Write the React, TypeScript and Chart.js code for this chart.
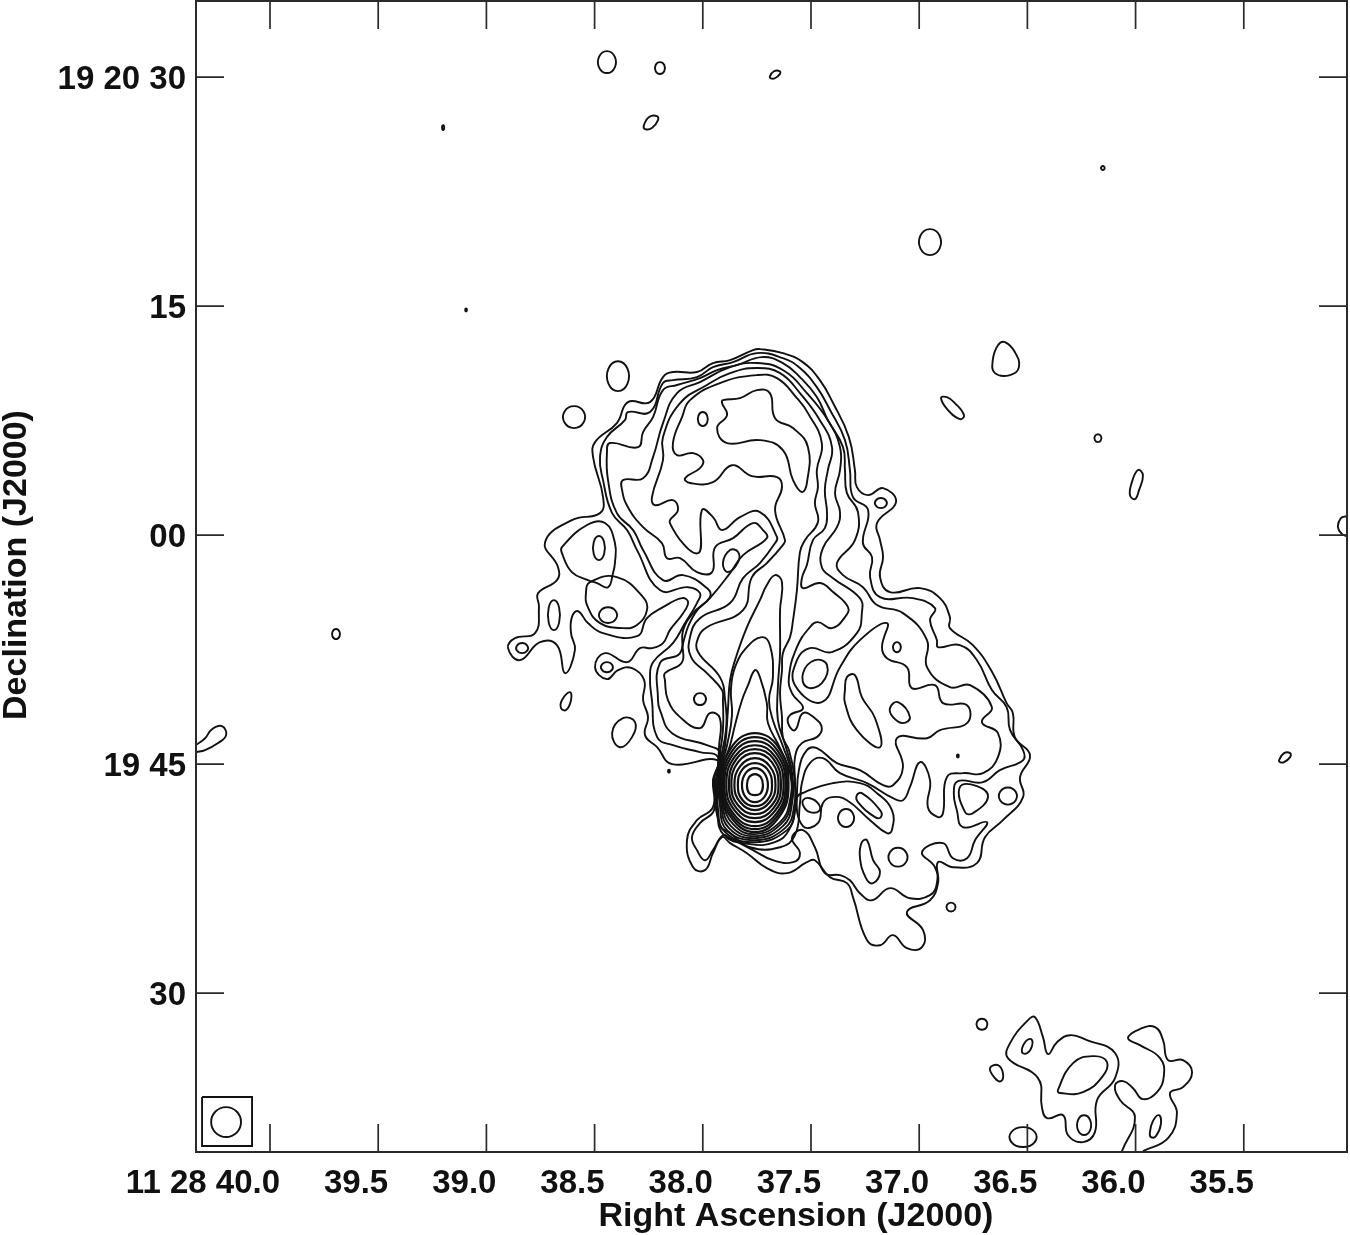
import React, { useEffect, useRef } from "react";
import { Chart, registerables } from "chart.js";

Chart.register(...registerables);

const raTicks = [40, 39.5, 39, 38.5, 38, 37.5, 37, 36.5, 36, 35.5];
const raTickLabels = ["11 28 40.0", "39.5", "39.0", "38.5", "38.0", "37.5", "37.0", "36.5", "36.0", "35.5"];
const decTicks = [30, 15, 0, -15, -30];
const decTickLabels = ["19 20 30", "15", "00", "19 45", "30"];
const xTitle = "Right Ascension (J2000)";
const yTitle = "Declination (J2000)";

// Contours: flat [RA seconds, Dec arcsec relative to 19 20 00] pairs.
const level1 = [37.736,12.18,37.630,11.92,37.538,11.33,37.459,10.15,37.398,8.65,37.325,6.42,37.297,4.26,37.288,3.14,37.236,2.62,37.167,3.08,37.107,2.16,37.195,.79,37.181,-.33,37.167,-1.44,37.181,-2.75,37.135,-3.73,36.996,-3.47,36.904,-4.13,36.858,-5.37,36.858,-6.09,36.752,-7.20,36.660,-9.04,36.596,-11.00,36.567,-11.66,36.558,-13.23,36.488,-14.41,36.534,-15.85,36.520,-17.16,36.613,-18.67,36.696,-19.78,36.733,-21.48,36.844,-21.75,36.913,-21.42,36.913,-22.79,36.950,-23.91,37.057,-24.69,36.982,-25.87,36.987,-26.99,37.057,-27.05,37.121,-26.20,37.181,-26.86,37.241,-26.53,37.306,-23.71,37.334,-22.79,37.412,-22.40,37.482,-21.29,37.519,-21.42,37.611,-22.14,37.704,-21.81,37.796,-20.83,37.874,-20.17,37.911,-19.78,37.953,-20.83,37.990,-21.94,38.045,-21.75,38.073,-19.98,38.027,-18.67,37.953,-17.82,37.953,-16.05,37.934,-14.74,38.142,-15.00,38.211,-13.89,38.267,-13.10,38.253,-11.92,38.276,-10.81,38.271,-9.50,38.327,-8.71,38.392,-8.84,38.443,-9.43,38.498,-8.65,38.452,-7.73,38.350,-8.32,38.290,-7.40,38.235,-7.40,38.184,-7.07,38.152,-6.22,38.091,-5.11,38.068,-4.39,38.096,-4.13,38.184,-4.72,38.258,-5.44,38.304,-6.62,38.461,-6.42,38.531,-5.76,38.577,-4.98,38.605,-5.37,38.609,-6.42,38.591,-7.53,38.637,-9.04,38.674,-7.20,38.752,-7.01,38.845,-8.19,38.900,-7.40,38.868,-6.75,38.775,-6.42,38.757,-4.72,38.761,-3.80,38.674,-2.95,38.669,-2.10,38.729,-.46,38.605,.98,38.475,1.44,38.461,2.49,38.507,5.11,38.498,6.09,38.397,7.34,38.346,8.71,38.244,8.71,38.184,10.35,38.138,10.68,38.027,10.68,37.953,11.27,37.874,11.46,37.768,12.12];
const level2 = [37.750,11.92,37.630,11.59,37.551,10.94,37.473,9.69,37.412,8.19,37.343,6.22,37.320,4.26,37.306,2.49,37.236,1.64,37.260,-.52,37.218,-1.44,37.227,-2.75,37.181,-4.06,37.029,-4.13,36.927,-4.78,36.950,-5.57,36.918,-6.88,36.913,-7.34,36.812,-7.20,36.733,-8.19,36.664,-10.15,36.596,-11.27,36.580,-12.77,36.520,-14.08,36.520,-14.74,36.627,-15.39,36.705,-16.18,36.821,-16.11,36.840,-16.90,36.826,-18.01,36.798,-19.13,36.687,-18.80,36.742,-19.98,36.779,-21.16,36.844,-21.16,36.890,-20.17,36.987,-20.76,36.927,-21.75,36.918,-22.79,36.950,-23.58,37.043,-23.78,37.135,-23.12,37.218,-23.91,37.274,-23.45,37.320,-22.60,37.366,-22.27,37.436,-22.14,37.482,-20.44,37.537,-19.32,37.588,-19.85,37.551,-20.83,37.583,-21.42,37.676,-21.29,37.768,-20.63,37.874,-19.85,37.907,-19.65,37.953,-20.63,37.990,-21.29,38.027,-20.63,38.050,-19.78,38.013,-18.86,37.948,-18.01,37.948,-16.05,37.930,-14.54,38.013,-14.21,38.138,-13.76,38.211,-13.23,38.235,-10.81,38.244,-9.30,38.230,-8.32,38.138,-7.07,38.082,-5.76,38.027,-4.45,38.013,-3.80,38.068,-3.41,38.198,-3.60,38.304,-.98,38.350,.33,38.419,1.44,38.461,3.60,38.475,5.11,38.443,6.42,38.360,7.53,38.346,8.06,38.244,8.06,38.184,9.96,38.138,10.15,38.027,10.35,37.953,11.00,37.860,11.33];
const level3 = [37.727,11.66,37.630,11.27,37.551,10.35,37.473,9.04,37.422,7.53,37.352,5.76,37.343,4.26,37.334,2.75,37.283,1.51,37.297,-.33,37.380,-1.83,37.352,-2.62,37.260,-3.41,37.195,-4.58,37.075,-5.11,36.964,-6.88,36.964,-8.65,36.858,-9.96,36.765,-9.83,36.664,-11.27,36.710,-12.25,36.636,-12.97,36.636,-14.54,36.705,-15.59,36.798,-15.59,36.872,-15.85,36.890,-18.21,36.913,-18.47,36.960,-17.82,36.950,-16.05,36.996,-14.87,37.043,-16.51,37.075,-17.36,37.121,-17.23,37.241,-16.24,37.366,-15.59,37.445,-14.61,37.505,-14.93,37.542,-16.24,37.551,-17.55,37.574,-19.65,37.643,-20.44,37.782,-20.44,37.874,-19.52,37.921,-18.99,37.943,-16.51,37.921,-14.28,37.981,-13.76,38.142,-12.97,38.198,-11.46,38.207,-10.81,38.198,-8.38,38.105,-7.73,38.091,-6.22,38.045,-5.11,37.967,-4.06,37.981,-3.47,38.091,-2.62,38.184,-2.95,38.276,-.98,38.322,.33,38.397,1.44,38.438,3.60,38.443,5.37,38.429,6.03,38.299,5.76,38.276,6.75,38.230,7.73,38.184,9.50,38.119,9.83,38.013,10.28,37.934,10.81,37.842,11.13];
const level4 = [37.750,11.27,37.630,10.81,37.519,9.30,37.422,7.53,37.366,5.76,37.366,4.26,37.389,2.75,37.366,1.51,37.380,.52,37.445,-.85,37.450,-2.10,37.398,-2.82,37.274,-4.13,37.265,-5.11,37.288,-6.42,37.403,-7.66,37.505,-7.40,37.565,-8.19,37.574,-9.83,37.450,-10.94,37.366,-8.65,37.274,-6.88,37.149,-5.76,37.172,-7.34,37.149,-8.06,37.057,-8.65,37.034,-10.02,36.927,-9.83,36.890,-11.00,36.779,-11.14,36.779,-12.31,36.904,-12.77,36.964,-13.30,37.103,-13.30,37.075,-15.20,37.121,-16.38,37.167,-16.38,37.274,-15.39,37.380,-14.93,37.473,-13.95,37.519,-14.08,37.556,-15.39,37.570,-17.69,37.602,-19.32,37.667,-20.11,37.782,-20.24,37.902,-19.65,37.934,-18.01,37.934,-16.38,37.925,-13.89,37.921,-11.99,37.967,-11.66,38.013,-12.64,38.105,-11.92,38.161,-10.81,38.175,-9.50,38.175,-9.04,38.096,-8.32,38.091,-7.07,38.036,-5.11,37.967,-4.13,37.874,-2.49,37.814,-1.31,37.704,-.20,37.722,.33,37.768,.79,37.860,-.20,37.943,-.79,37.957,-2.42,38.027,-2.42,38.105,-1.51,38.165,-1.51,38.189,-.52,38.276,.52,38.346,1.83,38.373,2.95,38.369,3.60,38.276,3.73,38.230,5.11,38.184,7.34,38.119,9.30,38.013,10.02,37.874,11.00];
const level5 = [37.750,10.94,37.643,10.61,37.551,9.30,37.459,7.53,37.403,5.76,37.422,4.26,37.436,2.95,37.426,1.44,37.436,.46,37.491,-.33,37.519,-1.96,37.542,-2.82,37.537,-3.47,37.459,-3.14,37.398,-3.73,37.329,-4.72,37.343,-5.37,37.403,-6.09,37.468,-5.70,37.505,-6.03,37.565,-7.34,37.602,-9.30,37.588,-10.35,37.537,-11.33,37.597,-11.79,37.606,-12.31,37.574,-12.77,37.537,-11.66,37.482,-11.99,37.450,-12.64,37.473,-13.23,37.542,-13.62,37.574,-14.54,37.574,-16.05,37.574,-18.01,37.611,-19.32,37.759,-20.11,37.897,-19.45,37.930,-17.88,37.930,-15.39,37.907,-12.77,37.907,-10.81,37.911,-10.15,37.981,-9.04,38.054,-7.99,38.059,-6.68,38.013,-5.44,37.874,-4.45,37.814,-2.82,37.736,-1.83,37.666,-.52,37.657,-.13,37.736,1.51,37.828,1.18,37.911,.33,37.953,1.18,38.004,1.64,38.022,-1.18,38.152,.79,38.115,1.64,38.138,2.29,38.221,1.96,38.235,2.49,38.184,4.91,38.184,6.42,38.105,8.64,37.981,9.83,37.874,10.61];
const level6 = [37.750,10.48,37.657,10.28,37.565,8.97,37.514,7.99,37.450,6.03,37.473,4.26,37.468,3.14,37.482,2.10,37.468,.85,37.528,-.33,37.551,-1.11,37.565,-3.60,37.583,-5.57,37.597,-6.68,37.630,-7.73,37.634,-8.84,37.643,-10.35,37.634,-11.92,37.630,-13.23,37.602,-14.08,37.578,-15.72,37.578,-17.75,37.620,-19.19,37.759,-19.98,37.888,-19.32,37.921,-17.69,37.925,-15.39,37.893,-12.77,37.897,-10.81,37.921,-9.30,38.022,-7.66,38.022,-6.75,37.981,-6.03,37.814,-4.91,37.773,-2.75,37.704,-1.83,37.630,-.65,37.620,-.33,37.666,1.64,37.634,3.14,37.657,3.80,37.773,3.86,37.865,4.58,37.953,3.47,38.059,3.41,38.082,3.73,38.013,4.39,37.999,4.91,38.045,5.37,38.119,5.24,38.138,6.03,38.096,7.73,38.059,8.84,37.921,9.96];
const jetA = [37.666,-2.62,37.634,-3.08,37.643,-4.91,37.643,-7.73,37.653,-9.96,37.653,-12.12,37.616,-13.88,37.588,-15.52,37.588,-17.62,37.630,-19.06,37.759,-19.85,37.879,-19.19,37.916,-17.55,37.921,-15.39,37.897,-13.76,37.884,-11.46,37.874,-9.50,37.851,-8.19,37.796,-6.03,37.736,-4.26,37.704,-3.27];
const jetB = [37.727,-6.68,37.690,-7.20,37.676,-9.30,37.694,-10.81,37.676,-12.12,37.630,-13.82,37.592,-15.52,37.592,-17.49,37.639,-18.93,37.759,-19.72,37.870,-19.06,37.911,-17.49,37.916,-15.39,37.888,-13.76,37.865,-11.79,37.870,-10.15,37.851,-8.65,37.796,-7.34];
const jetC = [37.759,-8.84,37.736,-9.30,37.704,-11.00,37.699,-12.31,37.643,-13.95,37.597,-15.59,37.597,-17.36,37.643,-18.80,37.759,-19.58,37.860,-18.93,37.907,-17.36,37.911,-15.39,37.874,-13.76,37.851,-12.44,37.819,-10.81,37.791,-9.83];

const core1 = [37.759,-15.65,37.732,-15.85,37.722,-16.38,37.732,-16.90,37.759,-17.03,37.786,-16.90,37.796,-16.38,37.786,-15.85];
const core2 = [37.759,-15.26,37.716,-15.59,37.699,-16.38,37.716,-17.16,37.759,-17.49,37.802,-17.16,37.819,-16.38,37.802,-15.59];
const core3 = [37.759,-14.93,37.702,-15.33,37.680,-16.38,37.702,-17.36,37.759,-17.75,37.816,-17.36,37.838,-16.38,37.816,-15.33];
const core4 = [37.759,-14.61,37.691,-15.13,37.664,-16.38,37.691,-17.49,37.759,-18.01,37.827,-17.49,37.854,-16.38,37.827,-15.13];
const core5 = [37.759,-14.28,37.681,-14.87,37.650,-16.38,37.681,-17.69,37.759,-18.27,37.837,-17.69,37.868,-16.38,37.837,-14.87];
const core6 = [37.759,-14.02,37.673,-14.67,37.639,-16.38,37.673,-17.88,37.759,-18.54,37.845,-17.88,37.879,-16.38,37.845,-14.67];
const core7 = [37.759,-13.76,37.664,-14.54,37.627,-16.38,37.664,-18.01,37.759,-18.80,37.854,-18.01,37.891,-16.38,37.854,-14.54];
const core8 = [37.759,-13.49,37.658,-14.34,37.618,-16.38,37.658,-18.21,37.759,-19.06,37.860,-18.21,37.900,-16.38,37.860,-14.34];
const core9 = [37.759,-13.23,37.653,-14.15,37.611,-16.38,37.653,-18.34,37.759,-19.26,37.865,-18.34,37.907,-16.38,37.865,-14.15];
const core10 = [37.759,-12.97,37.648,-13.95,37.604,-16.38,37.648,-18.47,37.759,-19.45,37.870,-18.47,37.914,-16.38,37.870,-13.95];

const north1 = [37.907,8.84,37.828,8.97,37.750,9.50,37.690,9.30,37.666,7.66,37.583,7.01,37.514,5.76,37.519,3.41,37.542,2.82,37.583,3.60,37.630,5.57,37.736,6.22,37.888,6.03,37.934,7.01,37.888,7.86,37.911,8.64];
const north2 = [38.000,8.06,37.980,7.83,37.980,7.37,38.000,7.14,38.020,7.37,38.020,7.83];
const north3 = [37.907,-1.83,37.874,-.98,37.837,-1.11,37.837,-1.77,37.884,-2.42];
const bubble = [37.177,2.43,37.153,2.26,37.153,1.94,37.177,1.77,37.201,1.94,37.201,2.26];
const westA = [38.651,-.79,38.535,.66,38.452,.79,38.406,-.52,38.406,-1.83,38.415,-2.49,38.438,-3.41,38.489,-3.14,38.531,-2.95,38.605,-2.42,38.651,-1.18];
const westB = [38.521,-3.08,38.397,-2.75,38.276,-4.06,38.258,-4.91,38.304,-5.89,38.369,-6.09,38.475,-5.76,38.531,-4.72,38.540,-3.80];
const westC = [38.480,-.06,38.456,-.46,38.456,-1.24,38.480,-1.64,38.504,-1.24,38.504,-.46];
const westD = [38.438,-4.72,38.402,-4.98,38.402,-5.50,38.438,-5.76,38.474,-5.50,38.474,-4.98];
const westE = [38.688,-4.26,38.664,-4.75,38.664,-5.73,38.688,-6.22,38.712,-5.73,38.712,-4.75];
const westF = [38.835,-7.07,38.811,-7.24,38.811,-7.56,38.835,-7.73,38.859,-7.56,38.859,-7.24];
const westG = [38.443,-8.32,38.419,-8.49,38.419,-8.81,38.443,-8.98,38.467,-8.81,38.467,-8.49];
const westH = [38.013,-10.35,37.989,-10.54,37.989,-10.94,38.013,-11.13,38.037,-10.94,38.037,-10.54];
const southLoop = [37.565,-17.23,37.537,-19.06,37.468,-18.86,37.445,-17.55,37.403,-17.16,37.334,-17.36,37.227,-18.67,37.149,-19.52,37.126,-19.32,37.126,-18.01,37.195,-16.90,37.274,-16.24,37.398,-16.24,37.528,-16.83];
const southA = [37.537,-17.36,37.505,-17.23,37.464,-17.62,37.464,-18.08,37.505,-18.14,37.532,-17.82];
const southB = [37.338,-17.94,37.306,-18.24,37.306,-18.82,37.338,-19.12,37.370,-18.82,37.370,-18.24];
const southC = [37.288,-17.03,37.265,-16.90,37.181,-18.01,37.177,-18.47,37.204,-18.47,37.283,-17.49];
const southD = [37.265,-20.11,37.241,-19.98,37.213,-21.29,37.181,-22.07,37.213,-22.79,37.246,-22.46,37.274,-21.09];
const southE = [37.098,-20.47,37.060,-20.78,37.060,-21.40,37.098,-21.71,37.136,-21.40,37.136,-20.78];
const southF = [36.812,-16.51,36.733,-16.44,36.682,-17.16,36.752,-18.21,36.788,-18.14];
const southG = [36.590,-16.53,36.554,-16.81,36.554,-17.37,36.590,-17.65,36.626,-17.37,36.626,-16.81];
const eastA = [37.103,-7.01,37.087,-7.18,37.087,-7.50,37.103,-7.67,37.119,-7.50,37.119,-7.18];
const eastB = [37.343,-10.15,37.334,-9.30,37.297,-9.17,37.265,-10.61,37.204,-11.99,37.181,-13.89,37.288,-12.77,37.343,-11.00];
const eastC = [37.135,-11.33,37.098,-10.94,37.043,-11.92,37.075,-12.31,37.121,-11.92];
const eastD = [37.537,-9.04,37.482,-8.19,37.426,-8.51,37.450,-9.69,37.519,-9.96];

const isle1 = [38.443,31.70,38.407,31.34,38.407,30.62,38.443,30.26,38.479,30.62,38.479,31.34];
const isle2 = [38.198,30.98,38.178,30.79,38.178,30.39,38.198,30.20,38.218,30.39,38.218,30.79];
const isle3 = [37.690,30.05,37.671,30.38,37.644,30.38,37.644,30.19,37.667,29.92,37.685,29.92];
const isle4 = [38.272,26.85,38.248,27.38,38.212,27.44,38.207,27.18,38.235,26.66,38.267,26.59];
const dot1 = [39.200,26.85,39.195,26.69,39.200,26.53,39.205,26.69];
const dot2 = [36.151,24.17,36.143,24.04,36.151,23.91,36.160,24.04];
const isle5 = [36.950,20.04,36.906,19.62,36.906,18.76,36.950,18.34,36.994,18.76,36.994,19.62];
const dot3 = [39.094,14.84,39.090,14.74,39.094,14.64,39.098,14.74];
const isle6 = [36.660,11.46,36.636,12.44,36.604,12.64,36.558,11.99,36.539,11.00,36.580,10.48,36.650,10.61];
const isle7 = [38.392,11.39,38.348,10.90,38.348,9.92,38.392,9.43,38.436,9.92,38.436,10.90];
const isle8 = [38.595,8.45,38.551,8.09,38.551,7.37,38.595,7.01,38.639,7.37,38.639,8.09];
const isle9 = [36.899,8.97,36.872,9.04,36.835,8.65,36.793,7.86,36.812,7.60,36.867,8.19];
const isle10 = [36.174,6.61,36.160,6.48,36.160,6.22,36.174,6.09,36.188,6.22,36.188,6.48];
const isle11 = [35.989,4.26,35.966,3.93,35.984,2.95,36.003,2.36,36.026,2.62,36.017,3.47];
const edgeEast = [35.023,1.24,35.051,1.11,35.065,.52,35.046,.07,35.023,-.07];
const isle12 = [39.695,-6.15,39.679,-6.32,39.679,-6.64,39.695,-6.81,39.711,-6.64,39.711,-6.32];
const isle13 = [38.614,-10.28,38.609,-10.81,38.632,-11.46,38.655,-11.33,38.651,-10.81];
const isle14 = [38.419,-12.97,38.369,-11.99,38.313,-12.25,38.327,-13.23,38.383,-13.89];
const edgeWest = [40.342,-13.75,40.300,-13.30,40.268,-12.71,40.222,-12.51,40.203,-13.10,40.240,-13.62,40.300,-14.08,40.342,-14.21];
const dot4 = [38.156,-15.36,38.152,-15.46,38.156,-15.56,38.161,-15.46];
const dot5 = [36.821,-14.37,36.817,-14.47,36.821,-14.57,36.826,-14.47];
const isle15 = [36.853,-24.07,36.835,-24.21,36.835,-24.51,36.853,-24.65,36.871,-24.51,36.871,-24.21];
const isle16 = [35.337,-14.74,35.314,-14.28,35.286,-14.28,35.286,-14.54,35.314,-14.87,35.332,-14.87];
const isle17 = [36.710,-31.67,36.688,-31.85,36.688,-32.21,36.710,-32.39,36.732,-32.21,36.732,-31.85];
const isle18 = [36.673,-34.91,36.636,-34.71,36.613,-35.24,36.622,-35.76,36.650,-35.56];

const groupA = [36.405,-33.99,36.428,-32.88,36.465,-31.57,36.497,-31.76,36.580,-33.27,36.590,-34.25,36.451,-35.56,36.433,-37.46,36.409,-38.18,36.335,-37.99,36.312,-39.30,36.243,-39.75,36.188,-39.10,36.178,-37.00,36.095,-35.56,36.095,-33.92,36.225,-33.07,36.303,-32.75,36.363,-33.21];
const groupB = [36.359,-36.35,36.289,-34.58,36.197,-34.12,36.132,-34.51,36.155,-35.50,36.243,-36.48,36.349,-36.54];
const groupC = [36.525,-33.86,36.511,-33.21,36.483,-33.01,36.479,-33.47,36.502,-33.93];
const groupD = [36.238,-37.99,36.210,-38.31,36.210,-38.97,36.238,-39.29,36.266,-38.97,36.266,-38.31];
const groupE = [36.520,-38.77,36.466,-39.09,36.466,-39.75,36.520,-40.07,36.574,-39.75,36.574,-39.09];
const groupF = [36.063,-40.34,36.003,-38.11,36.072,-37.00,36.095,-36.02,36.058,-35.76,36.012,-36.22,35.966,-36.94,35.901,-36.48,35.869,-35.37,35.887,-34.25,35.980,-33.40,36.035,-32.94,35.980,-32.35,35.910,-32.22,35.873,-33.07,35.850,-34.38,35.781,-34.38,35.739,-35.17,35.781,-36.15,35.841,-36.54,35.809,-37.85,35.850,-39.49,35.966,-40.34];
const groupG = [35.934,-39.16,35.920,-38.38,35.892,-37.99,35.883,-38.58,35.906,-39.36,35.929,-39.43];

const beamBox = [40.314,-36.80,40.083,-36.80,40.083,-40.01,40.314,-40.01,40.314,-36.80];
const beamCircle = [40.134,-38.44,40.154,-37.75,40.203,-37.46,40.252,-37.75,40.272,-38.44,40.252,-39.13,40.203,-39.42,40.154,-39.13];

const coreContours = [core1, core2, core3, core4, core5, core6, core7, core8, core9, core10];
const closedContours = [
  level1, level2, level3, level4, level5, level6, jetA, jetB, jetC,
  north1, north2, north3, bubble, westA, westB, westC, westD, westE, westF, westG, westH,
  southLoop, southA, southB, southC, southD, southE, southF, southG, eastA, eastB, eastC, eastD,
  isle1, isle2, isle3, isle4, dot1, dot2, isle5, dot3, isle6, isle7, isle8, isle9, isle10, isle11,
  isle12, isle13, isle14, dot4, dot5, isle15, isle16, isle17, isle18,
  groupA, groupB, groupC, groupD, groupE, groupG, beamCircle,
];
const openContours = [edgeEast, edgeWest, groupF];

const INK = "#111111";
const FRAME = "#2a2a2a";
const TITLE_FONT = 'bold 34px "Liberation Sans", Arial, sans-serif';
const TICK_FONT = { family: '"Liberation Sans", Arial, sans-serif', size: 33, weight: "bold" };

const toPoints = (flat: number[]) => {
  const pts: { x: number; y: number }[] = [];
  for (let i = 0; i < flat.length; i += 2) pts.push({ x: flat[i], y: flat[i + 1] });
  return pts;
};

const openLine = (flat: number[], tension: number, width = 1.9) => ({
  data: toPoints(flat),
  showLine: true,
  borderColor: INK,
  borderWidth: width,
  pointRadius: 0,
  tension,
  fill: false,
});

// A closed loop: the path overlaps itself by one segment at each end and those
// two segments stay hidden, so the spline has no corner where the loop meets.
const closedLine = (flat: number[], tension: number, width = 1.9) => {
  const pts = toPoints(flat);
  const n = pts.length;
  const data = [pts[n - 1], ...pts, pts[0], pts[1]];
  const lastIndex = data.length - 1;
  return {
    ...openLine(flat, tension, width),
    data,
    segment: {
      borderColor: (c: any) => (c.p0DataIndex === 0 || c.p1DataIndex === lastIndex ? "rgba(0,0,0,0)" : undefined),
    },
  };
};

const framePlugin = {
  id: "frame",
  afterDatasetsDraw(chart: any) {
    const { ctx, chartArea: a, scales } = chart;
    ctx.save();
    ctx.strokeStyle = FRAME;
    ctx.lineWidth = 2;
    ctx.strokeRect(a.left, a.top, a.right - a.left, a.bottom - a.top);
    ctx.lineWidth = 1.7;
    const tick = 28;
    ctx.beginPath();
    for (const v of raTicks) {
      const x = scales.x.getPixelForValue(v);
      ctx.moveTo(x, a.bottom);
      ctx.lineTo(x, a.bottom - tick);
      ctx.moveTo(x, a.top);
      ctx.lineTo(x, a.top + tick);
    }
    for (const v of decTicks) {
      const y = scales.y.getPixelForValue(v);
      ctx.moveTo(a.left, y);
      ctx.lineTo(a.left + tick, y);
      ctx.moveTo(a.right, y);
      ctx.lineTo(a.right - tick, y);
    }
    ctx.stroke();
    ctx.fillStyle = "#111";
    ctx.font = TITLE_FONT;
    ctx.textAlign = "center";
    ctx.textBaseline = "middle";
    ctx.fillText(xTitle, 796, 1217);
    ctx.translate(17, 565);
    ctx.rotate(-Math.PI / 2);
    ctx.fillText(yTitle, 0, 0);
    ctx.restore();
  },
};

export default function App() {
  const ref = useRef<HTMLCanvasElement>(null);
  useEffect(() => {
    const chart = new Chart(ref.current as HTMLCanvasElement, {
      type: "scatter",
      data: {
        datasets: [
          ...coreContours.map((c) => closedLine(c, 0.45, 2.2)),
          ...closedContours.map((c) => closedLine(c, 0.45)),
          ...openContours.map((c) => openLine(c, 0.45)),
          openLine(beamBox, 0),
        ],
      },
      options: {
        responsive: false,
        animation: false,
        layout: { padding: { top: 1, right: 3, left: 0, bottom: 0 } },
        plugins: { legend: { display: false }, tooltip: { enabled: false } },
        scales: {
          x: {
            type: "linear",
            reverse: true,
            min: 35.023,
            max: 40.342,
            afterBuildTicks: (s: any) => {
              s.ticks = raTicks.map((value) => ({ value }));
            },
            afterFit: (s: any) => {
              s.height = 83;
              s.paddingLeft = 0;
              s.paddingRight = 0;
            },
            grid: { display: false },
            border: { display: false },
            ticks: {
              autoSkip: false,
              maxRotation: 0,
              align: "end",
              labelOffset: 10,
              padding: 4,
              color: "#111",
              font: TICK_FONT,
              callback: (v: any) => raTickLabels[raTicks.indexOf(Number(v))] ?? "",
            },
          },
          y: {
            type: "linear",
            min: -40.4,
            max: 34.98,
            afterBuildTicks: (s: any) => {
              s.ticks = decTicks.map((value) => ({ value }));
            },
            afterFit: (s: any) => {
              s.width = 196;
              s.paddingTop = 0;
              s.paddingBottom = 0;
            },
            grid: { display: false },
            border: { display: false },
            ticks: {
              autoSkip: false,
              padding: 2,
              labelOffset: 3,
              color: "#111",
              font: TICK_FONT,
              callback: (v: any) => decTickLabels[decTicks.indexOf(Number(v))] ?? "",
            },
          },
        },
      },
      plugins: [framePlugin],
    } as any);
    return () => chart.destroy();
  }, []);
  return (
    <canvas
      ref={ref}
      width={1350}
      height={1235}
      style={{ position: "fixed", left: 0, top: 0, display: "block", background: "#fff" }}
    />
  );
}
